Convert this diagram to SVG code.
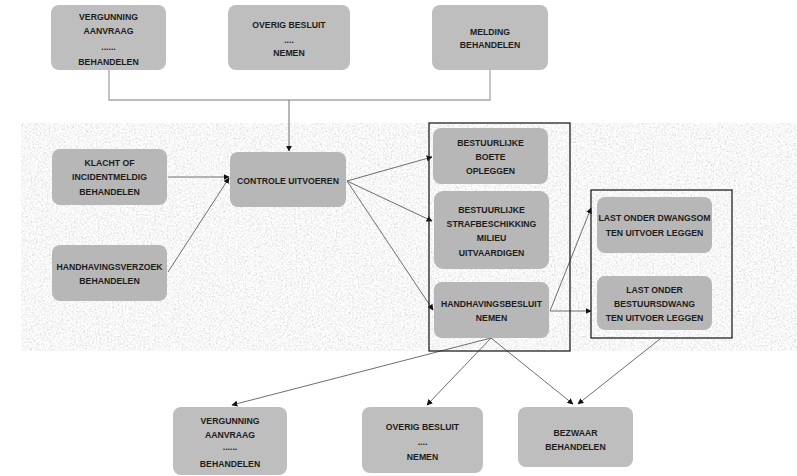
<svg xmlns="http://www.w3.org/2000/svg" width="797" height="476" viewBox="0 0 797 476">
<style>
.n{fill:#bebebe}
.m{fill:#b7b7b7}
.t{font-family:"Liberation Sans",Arial,sans-serif;font-weight:bold;font-size:8.7px;fill:#1c1c1c;text-anchor:middle}
.c{fill:none;stroke:#6e6e6e;stroke-width:1}
.g{fill:none;stroke:#a6a6a6;stroke-width:1.3}
.box{fill:none;stroke:#222;stroke-width:1.3}
</style>
<defs>
<marker id="ah" viewBox="0 0 10 10" refX="9" refY="5" markerWidth="6" markerHeight="6" orient="auto" markerUnits="userSpaceOnUse">
<path d="M0,0 L10,5 L0,10 z" fill="#111"/>
</marker>
<filter id="tex" x="0" y="0" width="100%" height="100%">
<feTurbulence type="fractalNoise" baseFrequency="0.55" numOctaves="3" seed="7"/>
<feColorMatrix type="matrix" values="0.4 0.4 0 0 0.53  0.4 0.4 0 0 0.53  0.4 0.4 0 0 0.53  0 0 0 0 1"/>
</filter>
</defs>
<rect x="0" y="0" width="797" height="476" fill="#fff"/>
<rect x="21" y="123" width="776" height="228" fill="#e6e6e6" filter="url(#tex)"/>

<g id="connectors">
<polyline class="g" points="109,70 109,100 490,100 490,70"/>
<line class="c" x1="289" y1="100" x2="289" y2="151" marker-end="url(#ah)"/>
<line class="c" x1="168" y1="177" x2="229" y2="177" marker-end="url(#ah)"/>
<line class="c" x1="168" y1="272" x2="229" y2="178" marker-end="url(#ah)"/>
<line class="c" x1="347" y1="181" x2="432" y2="157" marker-end="url(#ah)"/>
<line class="c" x1="347" y1="181" x2="432" y2="221" marker-end="url(#ah)"/>
<line class="c" x1="347" y1="181" x2="433" y2="310" marker-end="url(#ah)"/>
<line class="c" x1="550" y1="311" x2="591" y2="208" marker-end="url(#ah)"/>
<line class="c" x1="550" y1="311" x2="591" y2="311" marker-end="url(#ah)"/>
<line class="c" x1="491" y1="338" x2="232" y2="405" marker-end="url(#ah)"/>
<line class="c" x1="491" y1="338" x2="427" y2="405" marker-end="url(#ah)"/>
<line class="c" x1="491" y1="338" x2="573" y2="404" marker-end="url(#ah)"/>
<line class="c" x1="660" y1="339" x2="578" y2="404" marker-end="url(#ah)"/>
</g>

<g id="group-sanctions"><rect class="box" x="429" y="123" width="141" height="228"/></g>
<g id="group-last"><rect class="box" x="591" y="190" width="141" height="148"/></g>

<g id="top-vergunning">
<rect class="n" x="51" y="5" width="115" height="65" rx="8"/>
<text class="t" x="108.5" y="20">VERGUNNING</text>
<text class="t" x="108.5" y="34">AANVRAAG</text>
<text class="t" x="108.5" y="50" font-size="6">......</text>
<text class="t" x="108.5" y="65">BEHANDELEN</text>
</g>
<g id="top-overig">
<rect class="n" x="228" y="5" width="122" height="65" rx="8"/>
<text class="t" x="289" y="28">OVERIG BESLUIT</text>
<text class="t" x="289" y="43" font-size="6">....</text>
<text class="t" x="289" y="56">NEMEN</text>
</g>
<g id="top-melding">
<rect class="n" x="432" y="5" width="116" height="65" rx="8"/>
<text class="t" x="490" y="35">MELDING</text>
<text class="t" x="490" y="48">BEHANDELEN</text>
</g>

<g id="klacht">
<rect class="m" x="52" y="149" width="115" height="56" rx="8"/>
<text class="t" x="109.5" y="166">KLACHT OF</text>
<text class="t" x="109.5" y="180">INCIDENTMELDIG</text>
<text class="t" x="109.5" y="195">BEHANDELEN</text>
</g>
<g id="handhavingsverzoek">
<rect class="m" x="52" y="245" width="115" height="56" rx="8"/>
<text class="t" x="109.5" y="270">HANDHAVINGSVERZOEK</text>
<text class="t" x="109.5" y="284">BEHANDELEN</text>
</g>
<g id="controle">
<rect class="m" x="230" y="152" width="116" height="55" rx="8"/>
<text class="t" x="288" y="184">CONTROLE UITVOEREN</text>
</g>

<g id="boete">
<rect class="m" x="433" y="128" width="115" height="56" rx="8"/>
<text class="t" x="490.5" y="146">BESTUURLIJKE</text>
<text class="t" x="490.5" y="160">BOETE</text>
<text class="t" x="490.5" y="174">OPLEGGEN</text>
</g>
<g id="strafbeschikking">
<rect class="m" x="434" y="191" width="115" height="78" rx="9"/>
<text class="t" x="491.5" y="213">BESTUURLIJKE</text>
<text class="t" x="491.5" y="227">STRAFBESCHIKKING</text>
<text class="t" x="491.5" y="241">MILIEU</text>
<text class="t" x="491.5" y="256">UITVAARDIGEN</text>
</g>
<g id="handhavingsbesluit">
<rect class="m" x="434" y="282" width="115" height="56" rx="8"/>
<text class="t" x="491.5" y="307">HANDHAVINGSBESLUIT</text>
<text class="t" x="491.5" y="321">NEMEN</text>
</g>

<g id="dwangsom">
<rect class="m" x="597" y="197" width="115" height="56" rx="8"/>
<text class="t" x="654.5" y="221">LAST ONDER DWANGSOM</text>
<text class="t" x="654.5" y="236">TEN UITVOER LEGGEN</text>
</g>
<g id="bestuursdwang">
<rect class="m" x="597" y="276" width="115" height="54" rx="8"/>
<text class="t" x="654.5" y="293">LAST ONDER</text>
<text class="t" x="654.5" y="307">BESTUURSDWANG</text>
<text class="t" x="654.5" y="321">TEN UITVOER LEGGEN</text>
</g>

<g id="bottom-vergunning">
<rect class="n" x="173" y="407" width="114" height="68" rx="8"/>
<text class="t" x="230" y="424">VERGUNNING</text>
<text class="t" x="230" y="438">AANVRAAG</text>
<text class="t" x="230" y="450" font-size="6">......</text>
<text class="t" x="230" y="467">BEHANDELEN</text>
</g>
<g id="bottom-overig">
<rect class="n" x="362" y="407" width="121" height="66" rx="8"/>
<text class="t" x="422.5" y="430">OVERIG BESLUIT</text>
<text class="t" x="422.5" y="445" font-size="6">....</text>
<text class="t" x="422.5" y="460">NEMEN</text>
</g>
<g id="bezwaar">
<rect class="n" x="518" y="407" width="115" height="60" rx="8"/>
<text class="t" x="575.5" y="436">BEZWAAR</text>
<text class="t" x="575.5" y="450">BEHANDELEN</text>
</g>
</svg>
